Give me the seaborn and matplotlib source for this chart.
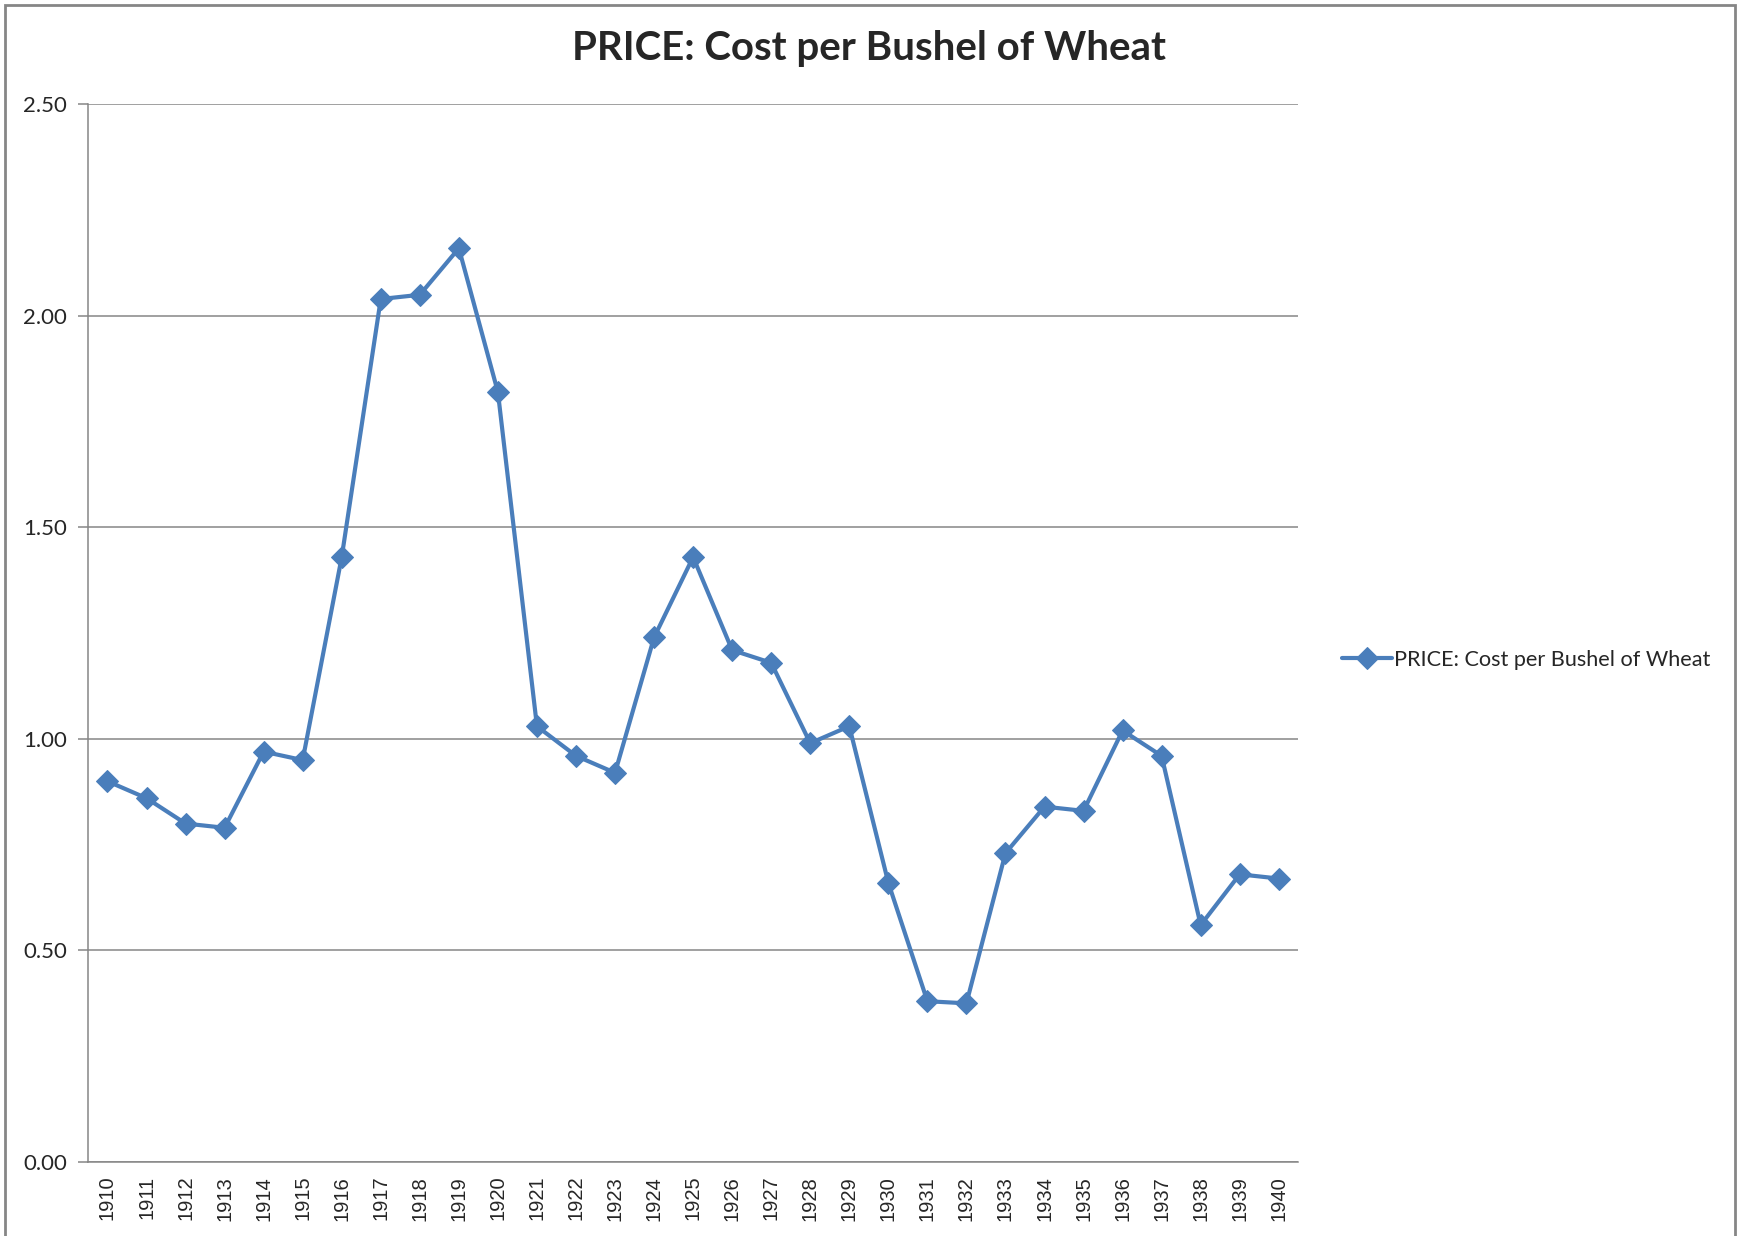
import pandas as pd
import matplotlib.pyplot as plt
import seaborn as sns
from matplotlib.patches import Rectangle

# data
years = [str(y) for y in range(1910, 1941)]
price = [0.90, 0.86, 0.80, 0.79, 0.97, 0.95, 1.43, 2.04, 2.05, 2.16,
         1.82, 1.03, 0.96, 0.92, 1.24, 1.43, 1.21, 1.18, 0.99, 1.03,
         0.66, 0.38, 0.375, 0.73, 0.84, 0.83, 1.02, 0.96, 0.56, 0.68, 0.67]
label = "PRICE: Cost per Bushel of Wheat"

df = pd.DataFrame({"Year": years, "Price": price})

sns.set_theme(style="white")
plt.rcParams['font.family'] = ['Lato', 'DejaVu Sans']

fig = plt.figure(figsize=(17.38, 12.36), dpi=100)
ax = fig.add_axes([0.0506, 0.0599, 0.6964, 0.8556])

blue = "#4A7EBB"
gray = "#868686"

sns.lineplot(data=df, x="Year", y="Price", ax=ax, color=blue, linewidth=3,
             marker="D", markersize=11, markeredgecolor=blue, sort=False,
             label=label)

ax.set_ylim(0, 2.5)
ax.set_xlim(-0.5, len(years) - 0.5)
ax.set_yticks([0, 0.5, 1.0, 1.5, 2.0, 2.5])
ax.set_yticklabels([f"{v:.2f}" for v in [0, 0.5, 1.0, 1.5, 2.0, 2.5]], fontsize=16)
ax.yaxis.grid(True, color=gray, linewidth=1.1)
ax.set_axisbelow(True)

# category labels in the middle, tick marks on the boundaries
ax.set_xticks(range(len(years)))
ax.set_xticklabels(years, rotation=90, fontsize=14.5, family=['Liberation Sans'])
ax.set_xticks([i - 0.5 for i in range(len(years) + 1)], minor=True)
ax.tick_params(axis="x", which="major", length=0, pad=10)
ax.tick_params(axis="x", which="minor", length=7, color=gray, width=1.1, direction="out")
ax.tick_params(axis="y", length=7, color=gray, width=1.1, direction="out", left=True, pad=8)

for s in ["top", "right"]:
    ax.spines[s].set_visible(False)
for s in ["left", "bottom"]:
    ax.spines[s].set_color(gray)
    ax.spines[s].set_linewidth(1.1)

ax.set_xlabel("")
ax.set_ylabel("")
fig.suptitle(label, fontsize=29, fontweight="bold", x=0.5, y=0.961, va="center")

ax.legend(loc="center left", bbox_to_anchor=(1.02, 0.475), frameon=False,
          fontsize=15.6, handlelength=2.3, handletextpad=0.1)

# chart border
fig.patches.append(Rectangle((5 / 1738, -0.01), 1730 / 1738, 1 - 5 / 1236 + 0.01,
                             transform=fig.transFigure, fill=False,
                             edgecolor=gray, linewidth=2))

fig.savefig("out.png", dpi=100)
